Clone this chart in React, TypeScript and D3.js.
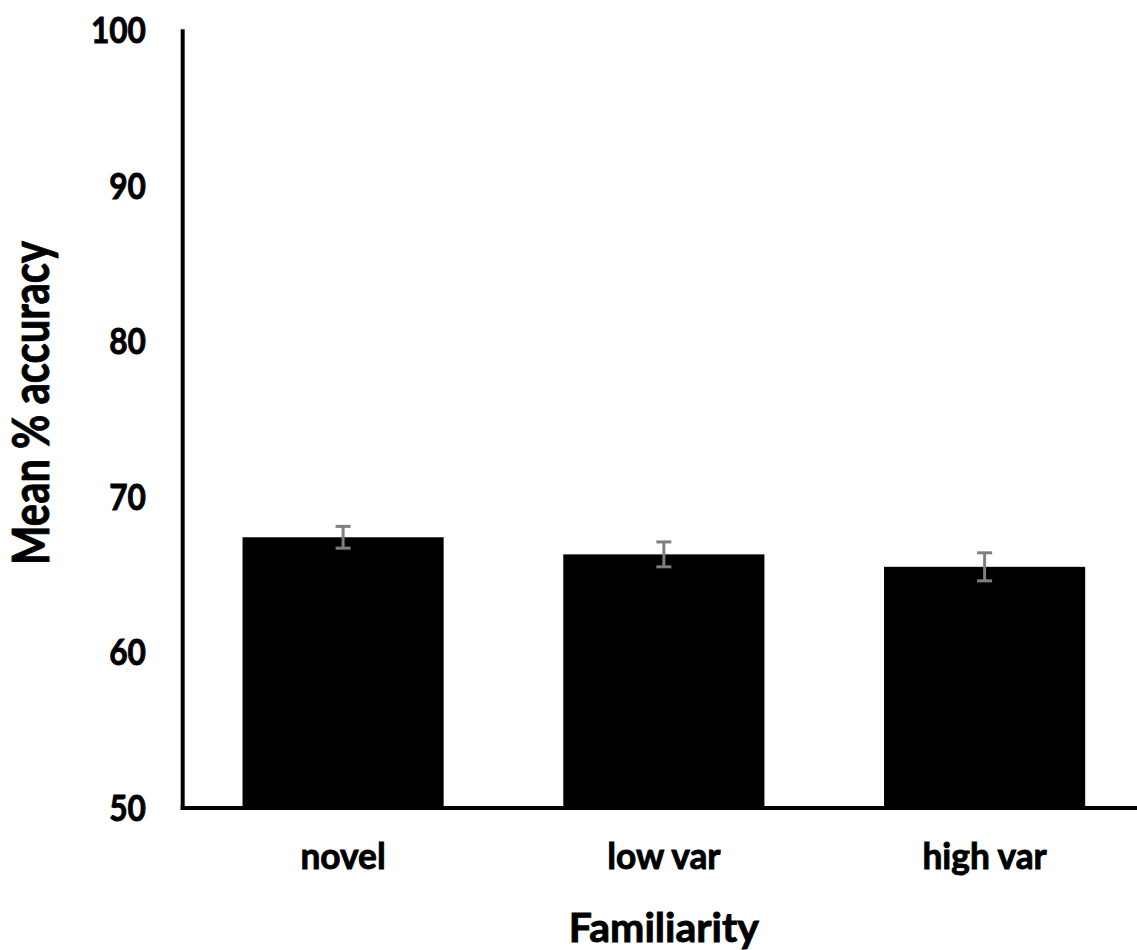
import React from "react";
import { scaleBand, scaleLinear } from "d3";

const categories = ["novel", "low var", "high var"];
const means = [67.4, 66.3, 65.5];
const errors = [0.7, 0.8, 0.9];
const yTicks = [50, 60, 70, 80, 90, 100];

const W = 1137;
const H = 950;
const font = "Lato, 'Open Sans', sans-serif";
const errColor = "#7f7f7f";

const App = () => {
  const x = scaleBand<string>()
    .domain(categories)
    .range([182.7, 1145])
    .paddingInner(0.373)
    .paddingOuter(0.1865);
  const y = scaleLinear().domain([50, 100]).range([808, 30]);

  return (
    <svg
      width={W}
      height={H}
      style={{ position: "absolute", left: 0, top: 0, background: "#fff" }}
    >
      {/* bars */}
      {categories.map((c, i) => (
        <rect
          key={c}
          x={x(c)}
          y={y(means[i])}
          width={x.bandwidth()}
          height={y(50) - y(means[i])}
          fill="#000"
        />
      ))}

      {/* error bars */}
      {categories.map((c, i) => {
        const cx = (x(c) as number) + x.bandwidth() / 2;
        const top = y(means[i] + errors[i]);
        const bot = y(means[i] - errors[i]);
        return (
          <g key={c} stroke={errColor} strokeWidth={3}>
            <line x1={cx} x2={cx} y1={top} y2={bot} />
            <line x1={cx - 7.5} x2={cx + 7.5} y1={top} y2={top} />
            <line x1={cx - 7.5} x2={cx + 7.5} y1={bot} y2={bot} />
          </g>
        );
      })}

      {/* axes */}
      <line x1={182.7} x2={182.7} y1={29.3} y2={810} stroke="#000" strokeWidth={4} />
      <line x1={180.7} x2={W} y1={808} y2={808} stroke="#000" strokeWidth={4} />

      <g fontFamily={font} fontWeight="bold" fill="#000" stroke="#000" strokeWidth={0.9}>
        {/* y tick labels */}
        {yTicks.map((t) => (
          <text
            key={t}
            transform={`translate(146,${y(t) + 13}) scale(0.88,1)`}
            textAnchor="end"
            fontSize={36}
          >
            {t}
          </text>
        ))}

        {/* x tick labels */}
        {categories.map((c) => (
          <text
            key={c}
            transform={`translate(${(x(c) as number) + x.bandwidth() / 2},869) scale(0.98,1)`}
            textAnchor="middle"
            fontSize={36}
          >
            {c}
          </text>
        ))}

        {/* axis titles */}
        <text
          transform={`translate(${(x("low var") as number) + x.bandwidth() / 2},941.7)`}
          textAnchor="middle"
          fontSize={41}
        >
          Familiarity
        </text>
        <text
          transform="translate(49,403) rotate(-90) scale(0.82,1)"
          textAnchor="middle"
          fontSize={51}
        >
          Mean % accuracy
        </text>
      </g>
    </svg>
  );
};

export default App;
